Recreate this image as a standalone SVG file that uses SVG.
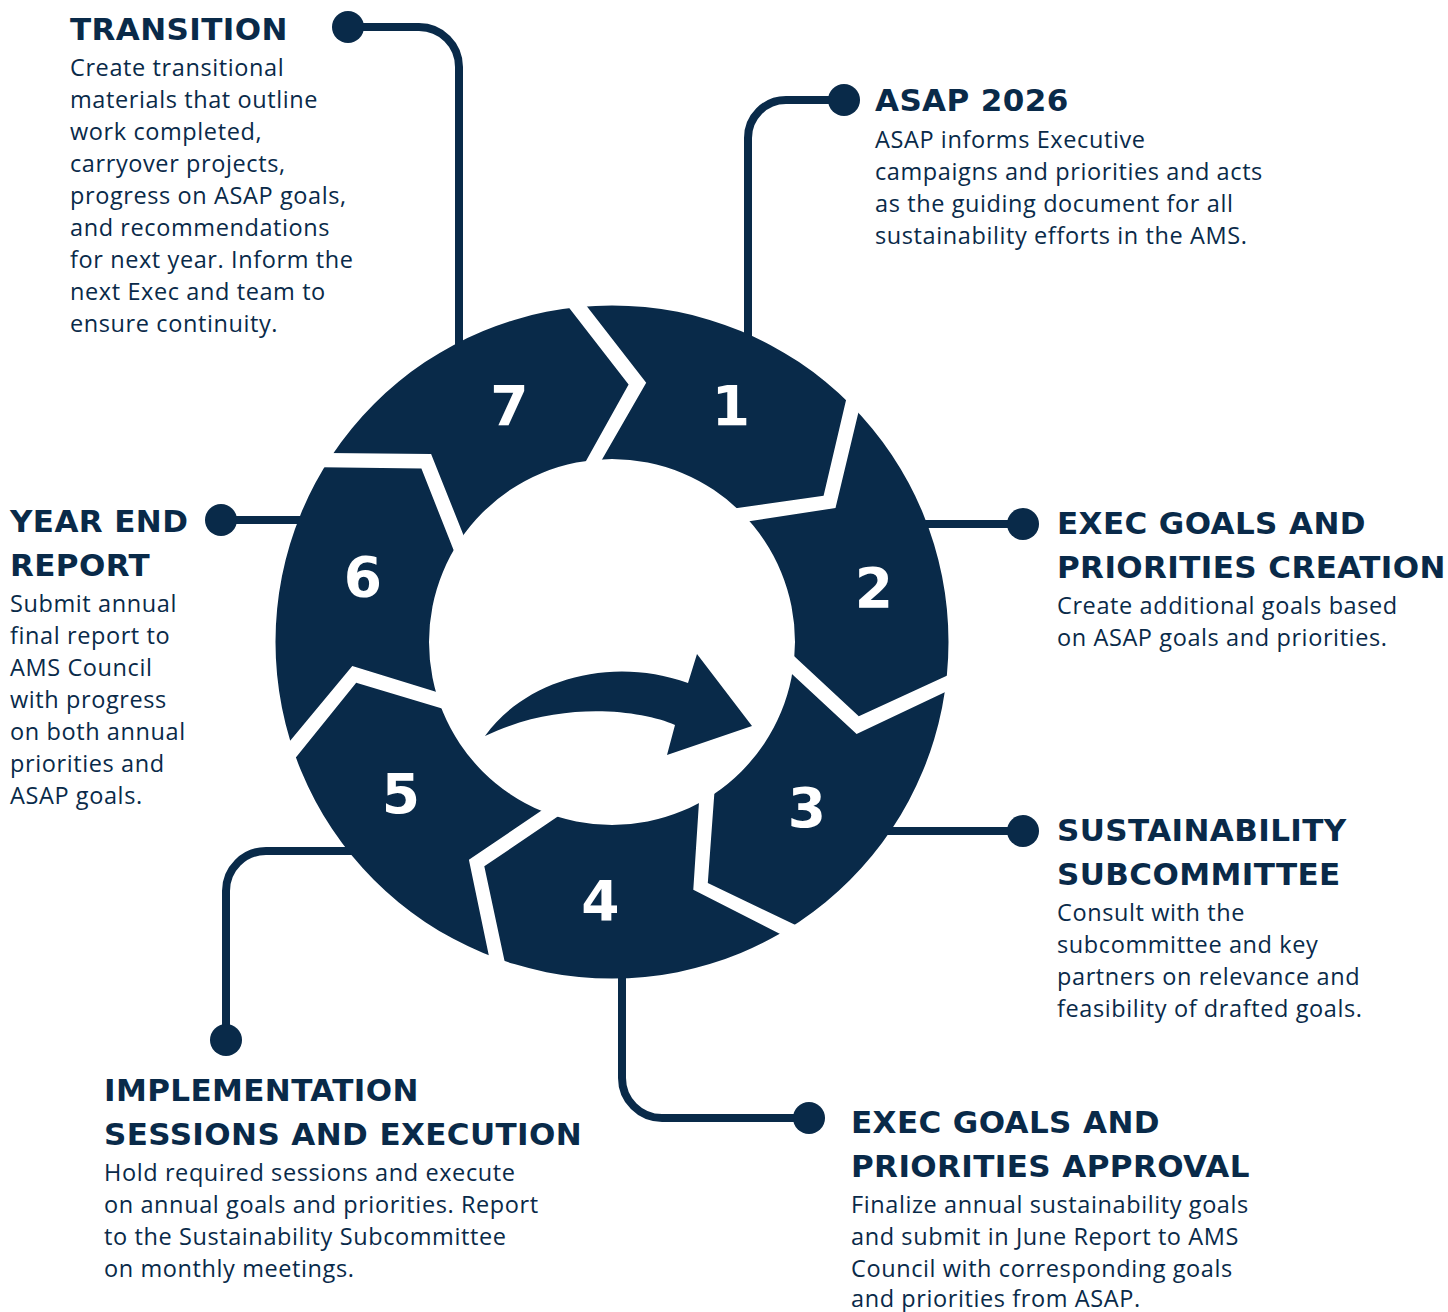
<svg xmlns="http://www.w3.org/2000/svg" width="1448" height="1312" viewBox="0 0 1448 1312">
  <defs>
    <!-- ring band: everything between the outer and inner circle -->
    <clipPath id="ring">
      <path clip-rule="evenodd" d="M275.5,642 A336.5,336.5 0 1,0 948.5,642 A336.5,336.5 0 1,0 275.5,642 Z M429,642 A183,183 0 1,0 795,642 A183,183 0 1,0 429,642 Z"/>
    </clipPath>
    <style>
      .seg { fill: #092a49; }
      .num { font-family: "DejaVu Sans", sans-serif; font-weight: 700; font-size: 55px; fill: #ffffff; text-anchor: middle; }
      .title { font-family: "DejaVu Sans", sans-serif; font-weight: 700; font-size: 31px; letter-spacing: 0.4px; fill: #092a49; }
      .body { font-family: "Open Sans", "Liberation Sans", sans-serif; font-size: 23.5px; letter-spacing: 0.6px; fill: #092a49; }
      .wire { fill: none; stroke: #092a49; stroke-width: 8; }
      .dot { fill: #092a49; }
    </style>
  </defs>

  <rect width="1448" height="1312" fill="#ffffff"/>

  <!-- leader lines from the ring out to each caption -->
  <g id="connectors">
    <path class="wire" d="M748,344 V138 A38,38 0 0 1 786,100 H844"/>
    <path class="wire" d="M915,524 H1023"/>
    <path class="wire" d="M880,831 H1023"/>
    <path class="wire" d="M622,968 V1078 A40,40 0 0 0 662,1118 H809"/>
    <path class="wire" d="M358,851 H266 A40,40 0 0 0 226,891 V1040"/>
    <path class="wire" d="M310,520 H221"/>
    <path class="wire" d="M459,352 V67 A40,40 0 0 0 419,27 H348"/>
    <circle class="dot" cx="844" cy="100" r="16"/>
    <circle class="dot" cx="1023" cy="524" r="16"/>
    <circle class="dot" cx="1023" cy="831" r="16"/>
    <circle class="dot" cx="809" cy="1118" r="16"/>
    <circle class="dot" cx="226" cy="1040" r="16"/>
    <circle class="dot" cx="221" cy="520" r="16"/>
    <circle class="dot" cx="348" cy="27" r="16"/>
  </g>

  <!-- centre arrow -->
  <g id="cycle-arrow">
    <path class="seg" d="M485,736 C525,680 610,655 688,683 L697,654 L752,726 L667,755 L675,725 C640,710 560,700 485,736 Z"/>
  </g>

  <g id="step-1">
    <path class="seg" clip-path="url(#ring)" d="M612,642 L593.4,474.6 L646.2,382.7 L563,275.6 L514,-90.8 L1096.8,87.2 L854.4,364.6 L823.6,495.8 L719.1,510.6 Z"/>
    <text class="num" x="731" y="424.5">1</text>
    <text class="title" x="875" y="111">ASAP 2026</text>
    <text class="body" x="875" y="148">ASAP informs Executive</text>
    <text class="body" x="875" y="180">campaigns and priorities and acts</text>
    <text class="body" x="875" y="212">as the guiding document for all</text>
    <text class="body" x="875" y="244">sustainability efforts in the AMS.</text>
  </g>

  <g id="step-2">
    <path class="seg" clip-path="url(#ring)" d="M612,642 L731.5,523.9 L835.5,508.1 L866.9,376.9 L1121.8,111.8 L1349.4,678.4 L980.7,660.2 L858.8,716.3 L781.6,644.4 Z"/>
    <text class="num" x="874" y="606.5">2</text>
    <text class="title" x="1057" y="534">EXEC GOALS AND</text>
    <text class="title" x="1057" y="578">PRIORITIES CREATION</text>
    <text class="body" x="1057" y="614">Create additional goals based</text>
    <text class="body" x="1057" y="646">on ASAP goals and priorities.</text>
  </g>

  <g id="step-3">
    <path class="seg" clip-path="url(#ring)" d="M612,642 L779,662 L856.6,733.9 L978,676.6 L1344,711.2 L1043.8,1238.8 L827.9,940.4 L707.8,883.1 L715.7,774.7 Z"/>
    <text class="num" x="807" y="827">3</text>
    <text class="title" x="1057" y="841">SUSTAINABILITY</text>
    <text class="title" x="1057" y="885">SUBCOMMITTEE</text>
    <text class="body" x="1057" y="921">Consult with the</text>
    <text class="body" x="1057" y="953">subcommittee and key</text>
    <text class="body" x="1057" y="985">partners on relevance and</text>
    <text class="body" x="1057" y="1017">feasibility of drafted goals.</text>
  </g>

  <g id="step-4">
    <path class="seg" clip-path="url(#ring)" d="M612,642 L700.1,785.1 L693.3,889.7 L814.1,951.3 L1016.2,1260.6 L413.2,1355.4 L512.6,998.7 L484.3,866.3 L571.4,807.3 Z"/>
    <text class="num" x="600.5" y="919.5">4</text>
    <text class="title" x="851" y="1133">EXEC GOALS AND</text>
    <text class="title" x="851" y="1177">PRIORITIES APPROVAL</text>
    <text class="body" x="851" y="1213">Finalize annual sustainability goals</text>
    <text class="body" x="851" y="1245">and submit in June Report to AMS</text>
    <text class="body" x="851" y="1277">Council with corresponding goals</text>
    <text class="body" x="851" y="1307">and priorities from ASAP.</text>
  </g>

  <g id="step-5">
    <path class="seg" clip-path="url(#ring)" d="M612,642 L554.9,801.6 L468.9,859.7 L496.6,992.8 L381.2,1343.6 L-67,930.8 L272.5,786.4 L356.2,682.8 L458.7,713.5 Z"/>
    <text class="num" x="401" y="813">5</text>
    <text class="title" x="104" y="1101">IMPLEMENTATION</text>
    <text class="title" x="104" y="1145">SESSIONS AND EXECUTION</text>
    <text class="body" x="104" y="1181">Hold required sessions and execute</text>
    <text class="body" x="104" y="1213">on annual goals and priorities. Report</text>
    <text class="body" x="104" y="1245">to the Sustainability Subcommittee</text>
    <text class="body" x="104" y="1277">on monthly meetings.</text>
  </g>

  <g id="step-6">
    <path class="seg" clip-path="url(#ring)" d="M612,642 L452.1,696.7 L352.3,666.1 L266.1,769.6 L-79.8,897.2 L-39.2,291.4 L286.4,466.7 L421.4,468.5 L460.4,567.3 Z"/>
    <text class="num" x="363" y="596">6</text>
    <text class="title" x="10" y="532">YEAR END</text>
    <text class="title" x="10" y="576">REPORT</text>
    <text class="body" x="10" y="612">Submit annual</text>
    <text class="body" x="10" y="644">final report to</text>
    <text class="body" x="10" y="676">AMS Council</text>
    <text class="body" x="10" y="708">with progress</text>
    <text class="body" x="10" y="740">on both annual</text>
    <text class="body" x="10" y="772">priorities and</text>
    <text class="body" x="10" y="804">ASAP goals.</text>
  </g>

  <g id="step-7">
    <path class="seg" clip-path="url(#ring)" d="M612,642 L470.1,551.7 L431.1,454 L295.4,452.7 L-21.2,263.4 L478.8,-87.4 L545.4,277.3 L628.6,384.5 L577.5,476.3 Z"/>
    <text class="num" x="509.5" y="424.5">7</text>
    <text class="title" x="70" y="40">TRANSITION</text>
    <text class="body" x="70" y="76">Create transitional</text>
    <text class="body" x="70" y="108">materials that outline</text>
    <text class="body" x="70" y="140">work completed,</text>
    <text class="body" x="70" y="172">carryover projects,</text>
    <text class="body" x="70" y="204">progress on ASAP goals,</text>
    <text class="body" x="70" y="236">and recommendations</text>
    <text class="body" x="70" y="268">for next year. Inform the</text>
    <text class="body" x="70" y="300">next Exec and team to</text>
    <text class="body" x="70" y="332">ensure continuity.</text>
  </g>
</svg>
